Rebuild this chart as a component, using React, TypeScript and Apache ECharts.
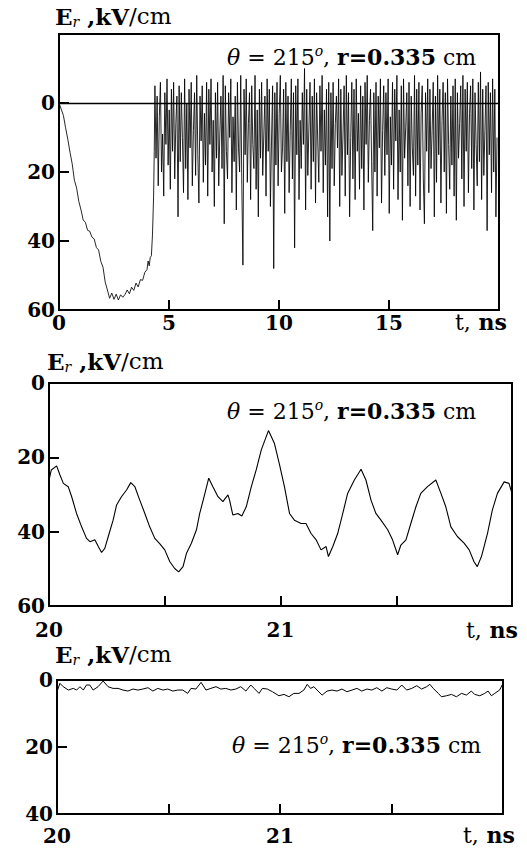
import React, { useEffect, useRef } from 'react';
import * as echarts from 'echarts';

const FONT = '"DejaVu Serif", "Liberation Serif", serif';

// ---------- Panel 1: 0–20 ns ----------
const p1RampTimes = [0, 0.1, 0.2, 0.3, 0.4, 0.5, 0.6, 0.7, 0.8, 0.9, 1.0, 1.1, 1.2, 1.3, 1.4, 1.5, 1.6, 1.7, 1.8, 1.9, 2.0, 2.1, 2.2, 2.3, 2.4, 2.5, 2.6, 2.7, 2.8, 2.9, 3.0, 3.1, 3.2, 3.3, 3.4, 3.5, 3.6, 3.7, 3.8, 3.9, 4.0, 4.05, 4.1, 4.15, 4.2, 4.25, 4.3, 4.33];
const p1RampValues = [0, 1.8, 3.6, 7.2, 10.5, 14.3, 17.6, 22.4, 24.6, 28.5, 31, 33.9, 34.6, 36.9, 37.2, 38.9, 39.4, 41.9, 42.6, 45.9, 47.6, 51.9, 54.2, 56.6, 55.1, 56.9, 55.4, 57.1, 55.6, 56.3, 55.5, 54.2, 55.3, 53.4, 54.3, 52.2, 53.3, 51.2, 51.4, 49.1, 48.3, 45.8, 47.2, 44.7, 44.3, 38, 27, 14];
const p1OscStart = 4.36;
const p1OscStep = 0.05;
const p1OscValues = [
  -5, 16, -2, 24, 4, -6, 20, 9, 27, -3, 12, -7, 18, 2, 25, -4,
  14, -6, 22, 6, -2, 33, -5, 17, -3, 10, 26, -7, 19, 0, 28, -4,
  13, -6, 24, 8, -3, 21, -8, 15, 29, -2, 11, -5, 23, 3, 18, -6,
  27, -4, 12, -7, 20, 5, 30, -3, 16, -6, 24, 9, -2, 19, -8, 35,
  -5, 14, 22, -3, 10, -7, 26, 4, 17, -2, 31, -6, 13, 20, -8, 24,
  47, -4, 15, -7, 23, 6, -3, 28, -5, 12, 19, -8, 25, 2, 33, -4,
  16, -6, 21, 9, -2, 27, -7, 14, -4, 30, 11, -5, 48, -3, 18, -6,
  24, 3, -8, 20, 13, -4, 32, -6, 17, -2, 26, 8, -7, 22, -3, 42,
  -5, 15, -7, 28, 5, 19, -3, 12, -10, 31, -4, 21, 7, -6, 25, -2,
  17, -7, 29, -3, 11, 23, -5, 14, -8, 26, 2, 18, -4, 33, -6, 40,
  -3, 19, -6, 24, 6, -2, 13, -7, 30, -4, 21, 9, -5, 27, -8, 15,
  -3, 33, 10, -6, 22, -4, 28, -7, 14, 3, 25, -5, 19, -2, 31, -6,
  12, -8, 23, 5, -4, 17, 37, -3, 20, -6, 27, -2, 13, -7, 29, 8,
  -5, 21, -3, 15, -7, 32, 4, 18, -6, 25, -4, 11, -8, 28, 2, 20,
  -5, 34, -7, 16, 7, -3, 24, -6, 30, -2, 13, 21, -8, 27, -4, 18,
  -6, 31, 3, -5, 22, 35, -3, 14, -7, 26, -4, 19, 8, -6, 33, -2,
  23, -8, 15, -4, 29, 5, -6, 20, -3, 32, -7, 12, 25, -2, 18, -5,
  27, -7, 34, -3, 16, 6, -5, 22, -8, 30, -4, 14, -6, 26, 3, -5,
  19, -7, 31, -3, 12, 24, -6, 17, -9, 28, -4, 21, 8, -5, 37, -6,
  15, -3, 26, -7, 20, -4, 33, 10,
];

// ---------- Panel 2: 20–22 ns ----------
const p2Times = [20.0, 20.01, 20.033, 20.047, 20.062, 20.083, 20.098, 20.119, 20.141, 20.162, 20.177, 20.198, 20.213, 20.227, 20.241, 20.256, 20.277, 20.292, 20.313, 20.335, 20.353, 20.371, 20.392, 20.414, 20.435, 20.457, 20.478, 20.5, 20.522, 20.543, 20.56, 20.579, 20.594, 20.615, 20.637, 20.651, 20.67, 20.69, 20.708, 20.73, 20.751, 20.773, 20.78, 20.794, 20.816, 20.833, 20.852, 20.874, 20.895, 20.917, 20.948, 20.974, 20.996, 21.017, 21.039, 21.06, 21.089, 21.11, 21.132, 21.154, 21.175, 21.197, 21.207, 21.226, 21.247, 21.269, 21.29, 21.319, 21.348, 21.369, 21.391, 21.412, 21.434, 21.463, 21.484, 21.506, 21.52, 21.542, 21.563, 21.585, 21.606, 21.635, 21.671, 21.693, 21.714, 21.736, 21.764, 21.793, 21.815, 21.836, 21.85, 21.868, 21.894, 21.915, 21.937, 21.966, 21.987, 22.0];
const p2Values = [26.1, 23.4, 22.3, 24.7, 27, 27.9, 30.6, 35.1, 38.7, 41.8, 42.7, 42.2, 44.0, 45.6, 44.5, 41.3, 36.9, 32.8, 30.6, 28.8, 26.8, 27.9, 31.5, 35.1, 38.7, 41.8, 43.2, 44.9, 48.1, 49.9, 50.8, 49.4, 45.8, 43.1, 39.5, 35.1, 30.6, 25.6, 27.9, 30.6, 31.9, 30.1, 31.5, 35.5, 35.1, 35.8, 33.3, 27.9, 23.4, 18.0, 12.8, 16.3, 22, 27.9, 35.1, 36.9, 37.8, 37.8, 40.5, 42.2, 44.9, 44.0, 46.7, 44.0, 40.5, 35.1, 29.7, 26.1, 23.2, 26.1, 31.5, 35.1, 36.9, 39.5, 42.2, 46.2, 43.6, 42.2, 37.8, 33.3, 29.7, 27.9, 26.1, 29.7, 33.3, 38.7, 41.3, 43.1, 44.9, 48.1, 49.4, 46.7, 40.5, 34.2, 29.7, 26.6, 27, 29.7];

// ---------- Panel 3: 20–22 ns ----------
const p3Times = [20.0, 20.013, 20.028, 20.051, 20.073, 20.088, 20.103, 20.118, 20.132, 20.147, 20.162, 20.184, 20.207, 20.229, 20.251, 20.274, 20.296, 20.318, 20.341, 20.363, 20.385, 20.408, 20.43, 20.452, 20.475, 20.497, 20.519, 20.542, 20.564, 20.586, 20.601, 20.623, 20.646, 20.668, 20.69, 20.713, 20.735, 20.757, 20.78, 20.802, 20.824, 20.847, 20.869, 20.884, 20.906, 20.921, 20.943, 20.966, 20.995, 21.018, 21.04, 21.062, 21.085, 21.107, 21.122, 21.137, 21.152, 21.166, 21.189, 21.211, 21.233, 21.256, 21.278, 21.3, 21.323, 21.345, 21.367, 21.39, 21.412, 21.434, 21.457, 21.479, 21.501, 21.524, 21.546, 21.568, 21.591, 21.613, 21.635, 21.658, 21.672, 21.687, 21.71, 21.724, 21.747, 21.769, 21.791, 21.814, 21.836, 21.858, 21.873, 21.896, 21.918, 21.933, 21.948, 21.963, 21.985, 22.0];
const p3Values = [3.5, 1.0, 2.0, 3.0, 2.5, 3.0, 2.0, 3.0, 1.5, 1.5, 3.0, 2.0, 0.3, 2.0, 2.5, 2.5, 3.0, 3.3, 2.7, 3.0, 2.7, 2.3, 3.3, 2.5, 3.0, 2.7, 3.3, 3.0, 3.0, 4.0, 2.5, 2.7, 0.7, 3.0, 2.5, 2.0, 2.7, 2.5, 3.0, 2.7, 2.0, 3.3, 1.5, 2.5, 4.0, 2.5, 2.7, 3.5, 4.7, 4.3, 5.0, 4.0, 4.0, 3.0, 1.3, 2.5, 2.0, 3.0, 4.5, 3.3, 3.0, 3.3, 2.7, 3.5, 3.0, 2.5, 3.3, 2.7, 3.0, 2.3, 3.3, 2.3, 2.7, 3.0, 1.5, 3.0, 2.5, 1.7, 2.7, 2.0, 1.3, 2.5, 4.0, 5.0, 4.7, 4.3, 5.0, 4.0, 4.5, 3.3, 4.3, 4.7, 4.0, 3.3, 4.7, 4.0, 3.0, 1.0];

const annotationText = '{th|θ}{n| = 215}{sup|o}{n|, }{b|r=0.335}{n| cm}';
const yLabelText = '{E|E}{sub|r}{lb| ,kV}{ln|/cm}';
const xNameText = '{n|t,}{b| ns}';

const richBase = {
  n: { fontFamily: FONT, fontSize: 22, lineHeight: 26, fill: '#000', color: '#000' },
  b: { fontFamily: FONT, fontSize: 22, fontWeight: 'bold', lineHeight: 26, fill: '#000', color: '#000' },
  ln: { fontFamily: FONT, fontSize: 23, lineHeight: 26, fill: '#000', color: '#000' },
  lb: { fontFamily: FONT, fontSize: 23, fontWeight: 'bold', lineHeight: 26, fill: '#000', color: '#000' },
  E: { fontFamily: FONT, fontSize: 23, fontWeight: 'bold', lineHeight: 26, fill: '#000', color: '#000' },
  th: { fontFamily: FONT, fontSize: 22, fontStyle: 'italic', lineHeight: 26, fill: '#000', color: '#000' },
  sub: { fontFamily: FONT, fontSize: 14, fontStyle: 'italic', lineHeight: 13, verticalAlign: 'bottom', fill: '#000', color: '#000' },
  sup: { fontFamily: FONT, fontSize: 14, fontStyle: 'italic', lineHeight: 13, verticalAlign: 'top', fill: '#000', color: '#000' },
};

function richText(text: string, x: number, y: number) {
  return {
    type: 'text',
    x,
    y,
    silent: true,
    style: {
      text,
      rich: richBase,
      fill: '#000',
      align: 'left',
      textAlign: 'left',
      verticalAlign: 'middle',
      textVerticalAlign: 'middle',
    },
  };
}

const axisLabelBase = {
  fontFamily: FONT,
  fontWeight: 'bold' as const,
  fontSize: 20,
  color: '#000',
};

function makeX(gridIndex: number, min: number, max: number, interval: number, margin: number, shown: number[]) {
  return {
    type: 'value',
    gridIndex,
    min,
    max,
    interval,
    axisLine: { show: true, onZero: false, lineStyle: { color: '#000', width: 2 } },
    axisTick: { show: true, inside: true, length: 10, lineStyle: { color: '#000', width: 2 } },
    splitLine: { show: false },
    axisLabel: {
      ...axisLabelBase,
      margin,
      formatter: (v: number) => (shown.some((s) => Math.abs(s - v) < 1e-6) ? String(Math.round(v)) : ''),
    },
  };
}

function makeY(gridIndex: number, min: number, max: number, shown: number[]) {
  return {
    type: 'value',
    gridIndex,
    min,
    max,
    interval: 20,
    inverse: true,
    axisLine: { show: true, onZero: false, lineStyle: { color: '#000', width: 2 } },
    axisTick: { show: true, inside: true, length: 10, lineStyle: { color: '#000', width: 2 } },
    splitLine: { show: false },
    axisLabel: {
      ...axisLabelBase,
      margin: 4,
      formatter: (v: number) => (shown.includes(v) ? String(v) : ''),
    },
  };
}

export default function App() {
  const ref = useRef<HTMLDivElement>(null);
  useEffect(() => {
    if (!ref.current) return;
    const chart = echarts.init(ref.current, null, { renderer: 'svg' });

    const p1Data: [number, number][] = p1RampTimes.map((t, i) => [t, p1RampValues[i]]);
    p1OscValues.forEach((v, i) => p1Data.push([+(p1OscStart + i * p1OscStep).toFixed(3), v]));
    const p2Data = p2Times.map((t, i) => [t, p2Values[i]]);
    const p3Data = p3Times.map((t, i) => [t, p3Values[i]]);

    const gridBase = { show: true, borderColor: '#000', borderWidth: 2, backgroundColor: 'transparent' };

    chart.setOption({
      animation: false,
      grid: [
        { ...gridBase, left: 59, top: 34, width: 440, height: 276 },
        { ...gridBase, left: 49, top: 383, width: 463, height: 223 },
        { ...gridBase, left: 57, top: 680, width: 446, height: 134 },
      ],
      xAxis: [
        makeX(0, 0, 20, 5, 3, [0, 5, 10, 15]),
        makeX(1, 20, 22, 0.5, 14, [20, 21]),
        makeX(2, 20, 22, 0.5, 12, [20, 21]),
      ],
      yAxis: [
        makeY(0, -20, 60, [0, 20, 40, 60]),
        makeY(1, 0, 60, [0, 20, 40, 60]),
        makeY(2, 0, 40, [0, 20, 40]),
      ],
      series: [
        {
          type: 'line',
          xAxisIndex: 0,
          yAxisIndex: 0,
          data: p1Data,
          showSymbol: false,
          symbol: 'none',
          lineStyle: { color: '#000', width: 0.85 },
          markLine: {
            silent: true,
            symbol: 'none',
            label: { show: false },
            lineStyle: { color: '#000', width: 1.3, type: 'solid' },
            data: [{ yAxis: 0 }],
          },
        },
        {
          type: 'line',
          xAxisIndex: 1,
          yAxisIndex: 1,
          data: p2Data,
          showSymbol: false,
          symbol: 'none',
          lineStyle: { color: '#000', width: 1.1 },
        },
        {
          type: 'line',
          xAxisIndex: 2,
          yAxisIndex: 2,
          data: p3Data,
          showSymbol: false,
          symbol: 'none',
          lineStyle: { color: '#000', width: 1 },
        },
      ],
      graphic: [
        richText(yLabelText, 55, 16),
        richText(yLabelText, 47, 361),
        richText(yLabelText, 55, 654),
        richText(annotationText, 227, 57),
        richText(annotationText, 227, 411),
        richText(annotationText, 232, 745),
        richText(xNameText, 455, 322),
        richText(xNameText, 466, 630),
        richText(xNameText, 463, 835),
      ],
    });
    return () => chart.dispose();
  }, []);
  return (
    <div
      ref={ref}
      style={{ position: 'absolute', left: 0, top: 0, width: 527, height: 851, background: '#fff' }}
    />
  );
}
